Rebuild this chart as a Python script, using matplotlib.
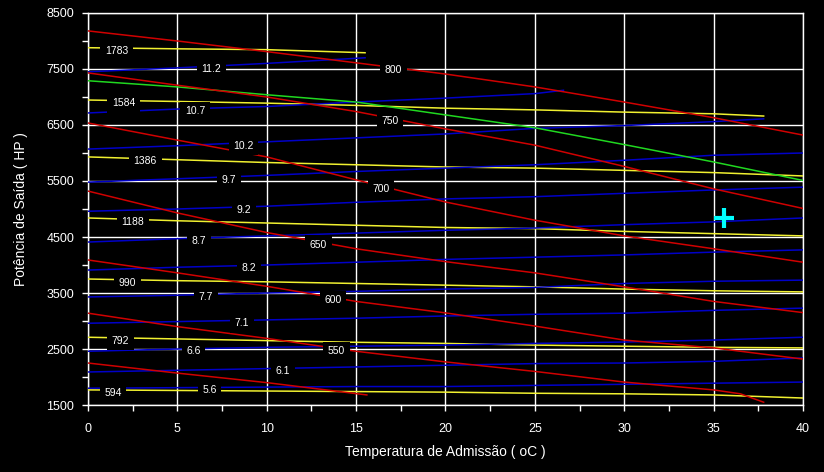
import matplotlib
matplotlib.use("Agg")
import matplotlib.pyplot as plt
import numpy as np

plt.rcParams['font.family'] = ['Liberation Sans', 'DejaVu Sans']

temps = [0, 5, 10, 15, 20, 25, 30, 35, 40]

# red lines (labelled 800 ... 550, last one unlabelled)
red_labels = ["800", "750", "700", "650", "600", "550", ""]
red_label_x = [17.1, 16.9, 16.4, 12.9, 13.7, 13.9, None]
red_x = [temps, temps, temps, temps, temps,
         [0, 5, 10, 15, 20, 25, 30, 35, 36.5, 37.8],
         [0, 5, 10, 15.6]]
red_y = [
    [8180, 8000, 7810, 7610, 7410, 7180, 6910, 6630, 6320],
    [7430, 7210, 7000, 6740, 6430, 6140, 5760, 5360, 5010],
    [6536, 6230, 5930, 5520, 5125, 4800, 4520, 4290, 4050],
    [5320, 4930, 4580, 4290, 4060, 3860, 3610, 3350, 3150],
    [4090, 3860, 3620, 3350, 3145, 2910, 2660, 2520, 2320],
    [3140, 2900, 2690, 2460, 2270, 2100, 1910, 1770, 1700, 1550],
    [2250, 2070, 1900, 1680],
]

# blue lines
blue_labels = ["11.2", "10.7", "10.2", "9.7", "9.2", "8.7",
               "8.2", "7.7", "7.1", "6.6", "6.1", "5.6"]
blue_label_x = [6.9, 6.0, 8.7, 7.9, 8.7, 6.2, 9.0, 6.6, 8.6, 5.9, 10.9, 6.8]
blue_x = [[0, 5, 10, 15.5],
          [0, 5, 10, 15, 20, 25, 26.6],
          [0, 5, 10, 15, 20, 25, 30, 35, 37.8],
          temps, temps, temps, temps, temps, temps, temps, temps, temps]
blue_y = [
    [7450, 7520, 7600, 7700],
    [6715, 6785, 6830, 6910, 6980, 7060, 7120],
    [6070, 6130, 6200, 6270, 6340, 6440, 6490, 6560, 6610],
    [5480, 5540, 5600, 5670, 5730, 5790, 5870, 5960, 6000],
    [4960, 5000, 5050, 5120, 5180, 5220, 5280, 5340, 5390],
    [4410, 4470, 4520, 4570, 4620, 4660, 4720, 4770, 4840],
    [3910, 3960, 4000, 4050, 4100, 4140, 4180, 4230, 4270],
    [3430, 3460, 3500, 3530, 3570, 3600, 3670, 3710, 3730],
    [2960, 2990, 3020, 3050, 3090, 3120, 3140, 3190, 3230],
    [2460, 2500, 2530, 2550, 2570, 2600, 2625, 2660, 2710],
    [2090, 2120, 2150, 2180, 2210, 2240, 2250, 2280, 2340],
    [1800, 1810, 1820, 1830, 1830, 1850, 1870, 1890, 1910],
]

# yellow lines
yellow_labels = ["1783", "1584", "1386", "1188", "990", "792", "594"]
yellow_label_x = [1.6, 2.0, 3.2, 2.5, 2.2, 1.8, 1.4]
yellow_x = [[0, 5, 10, 15.5],
            [0, 5, 10, 15, 20, 25, 30, 35, 37.8],
            temps, temps, temps, temps, temps]
yellow_y = [
    [7880, 7860, 7845, 7790],
    [6946, 6920, 6890, 6850, 6800, 6770, 6730, 6700, 6660],
    [5930, 5880, 5830, 5790, 5750, 5730, 5690, 5650, 5590],
    [4840, 4790, 4750, 4710, 4670, 4650, 4600, 4560, 4520],
    [3750, 3720, 3700, 3670, 3640, 3610, 3570, 3540, 3520],
    [2710, 2680, 2650, 2620, 2600, 2570, 2550, 2530, 2520],
    [1770, 1760, 1750, 1740, 1730, 1710, 1700, 1680, 1625],
]

green_y = [7290, 7180, 7040, 6910, 6680, 6450, 6150, 5840, 5510]

point_x = 35.6
point_y = 4840

fig = plt.figure(figsize=(8.24, 4.72), dpi=100, facecolor="black")
ax = fig.add_axes([0.1068, 0.1419, 0.8677, 0.8306])
ax.set_facecolor("black")


def draw_group(xs_list, ys_list, labels, label_xs, colour):
    for xs, ys, lab, lx in zip(xs_list, ys_list, labels, label_xs):
        ax.plot(xs, ys, color=colour, lw=1.1, zorder=3)
        if lab and lx is not None:
            y = np.interp(lx, xs, ys)
            ax.annotate(lab, (lx, y), xytext=(0, -2), textcoords="offset points",
                        ha="center", va="center", color="white", fontsize=7.5,
                        bbox=dict(boxstyle="square,pad=0.45", fc="black", ec="none"),
                        zorder=6)


draw_group(yellow_x, yellow_y, yellow_labels, yellow_label_x, "#f0f030")
draw_group(blue_x, blue_y, blue_labels, blue_label_x, "#0000c8")
ax.plot(temps, green_y, color="#20d820", lw=1.1, zorder=3)
draw_group(red_x, red_y, red_labels, red_label_x, "#d00000")

ax.plot(point_x, point_y, "+", color="#00ffff", ms=14, mew=3, zorder=7)

ax.set_xlim(0, 40)
ax.set_ylim(1500, 8500)
ax.set_xticks(np.arange(0, 41, 5))
ax.set_xticks(np.arange(2.5, 40, 5), minor=True)
ax.set_yticks(np.arange(1500, 8501, 1000))
ax.set_yticks(np.arange(2000, 8500, 1000), minor=True)
ax.set_axisbelow(True)
ax.grid(True, which="major", color="white", lw=1)

for sp in ax.spines.values():
    sp.set_color("white")
    sp.set_linewidth(1)

ax.tick_params(which="both", colors="white", length=4, width=1, labelsize=9)
ax.tick_params(axis="x", pad=9)
ax.tick_params(axis="y", pad=6)

ax.set_xlabel("Temperatura de Admissão ( oC )", color="white", fontsize=10, labelpad=7)
ax.set_ylabel("Potência de Saída ( HP )", color="white", fontsize=10, labelpad=13)

fig.savefig("out.png", dpi=100, facecolor="black")
